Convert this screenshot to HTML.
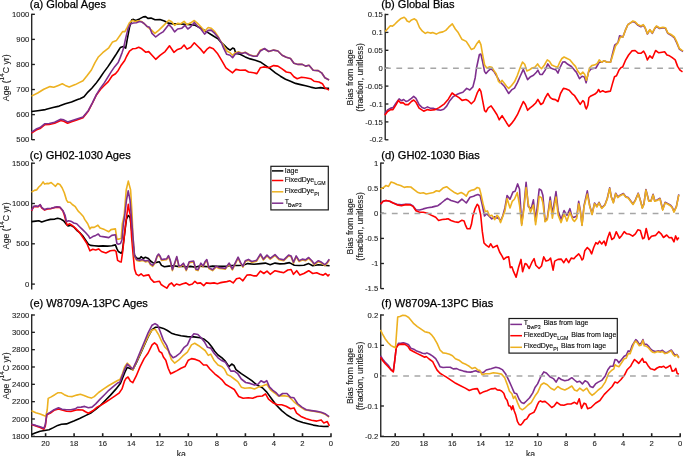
<!DOCTYPE html>
<html><head><meta charset="utf-8"><style>
html,body{margin:0;padding:0;background:#fff;width:685px;height:456px;overflow:hidden;}
svg{display:block;will-change:transform;}
</style></head><body>
<svg width="685" height="456" viewBox="0 0 685 456" font-family='"Liberation Sans", sans-serif'>
<line x1="31.7" y1="13.625" x2="31.7" y2="139.9" stroke="#222222" stroke-width="1.35"/>
<line x1="31.7" y1="14.3" x2="34.9" y2="14.3" stroke="#222222" stroke-width="1.35"/>
<text x="29.2" y="16.9" text-anchor="end" font-size="7.7" fill="#222222" stroke="#222222" stroke-width="0.1">1000</text>
<line x1="31.7" y1="39.379999999999995" x2="34.9" y2="39.379999999999995" stroke="#222222" stroke-width="1.35"/>
<text x="29.2" y="42.0" text-anchor="end" font-size="7.7" fill="#222222" stroke="#222222" stroke-width="0.1">900</text>
<line x1="31.7" y1="64.46" x2="34.9" y2="64.46" stroke="#222222" stroke-width="1.35"/>
<text x="29.2" y="67.1" text-anchor="end" font-size="7.7" fill="#222222" stroke="#222222" stroke-width="0.1">800</text>
<line x1="31.7" y1="89.53999999999999" x2="34.9" y2="89.53999999999999" stroke="#222222" stroke-width="1.35"/>
<text x="29.2" y="92.1" text-anchor="end" font-size="7.7" fill="#222222" stroke="#222222" stroke-width="0.1">700</text>
<line x1="31.7" y1="114.61999999999999" x2="34.9" y2="114.61999999999999" stroke="#222222" stroke-width="1.35"/>
<text x="29.2" y="117.2" text-anchor="end" font-size="7.7" fill="#222222" stroke="#222222" stroke-width="0.1">600</text>
<line x1="31.7" y1="139.7" x2="34.9" y2="139.7" stroke="#222222" stroke-width="1.35"/>
<text x="29.2" y="142.3" text-anchor="end" font-size="7.7" fill="#222222" stroke="#222222" stroke-width="0.1">500</text>
<text transform="translate(8.9,77.8) rotate(-90)" text-anchor="middle" font-size="8.7" fill="#222222" stroke="#222222" stroke-width="0.12">Age (<tspan font-size="6.4" dy="-4.6">14</tspan><tspan dy="4.6">C yr)</tspan></text>
<text x="29.7" y="7.9" font-size="11.08" fill="#000" stroke="#000" stroke-width="0.25">(a) Global Ages</text>
<polyline points="31.5,111.5 37.7,110.7 45.4,109.6 53.0,107.6 59.2,106.1 65.3,103.8 71.5,102.0 77.6,99.5 80.0,98.7 84.0,96.7 87.9,92.1 91.8,88.2 95.8,83.6 99.7,78.3 103.7,72.4 107.6,67.1 111.6,61.2 115.5,55.3 118.8,50.0 120.3,47.6 123.4,46.5 125.7,48.1 127.2,39.6 129.5,27.3 131.8,19.7 133.4,19.4 135.7,20.4 139.5,18.9 143.3,16.9 145.6,16.6 147.9,18.4 151.0,18.1 155.0,19.7 160.0,19.5 164.4,21.0 168.1,23.1 173.2,23.9 179.0,23.9 184.9,24.2 190.7,24.6 195.1,25.3 200.9,28.2 206.8,31.9 212.6,35.5 218.4,39.2 220.5,41.8 224.2,45.1 227.6,48.5 230.1,50.1 232.6,48.1 234.3,48.8 235.9,53.5 240.1,54.3 245.2,56.9 250.2,58.9 255.3,60.2 260.3,61.9 265.3,65.3 270.4,68.9 275.4,72.8 280.4,76.2 285.5,79.2 290.5,81.2 295.5,83.4 300.6,84.6 305.6,85.7 310.6,87.1 315.7,88.3 320.7,87.6 324.9,88.4 329.1,88.4" fill="none" stroke="#000000" stroke-width="1.6" stroke-linejoin="round" stroke-linecap="butt"/>
<polyline points="31.5,133.2 36.1,130.1 40.0,128.6 44.6,124.8 49.2,124.5 54.6,123.2 60.7,120.5 63.8,121.2 67.6,123.2 71.5,121.7 76.1,120.2 83.0,117.7 88.4,110.9 92.5,103.0 96.4,95.0 100.4,89.5 104.3,85.5 108.3,81.6 112.2,75.7 115.5,73.7 118.2,70.4 120.8,65.8 124.7,60.5 126.5,56.5 129.5,51.1 132.6,48.8 135.7,48.5 138.7,47.3 141.8,48.8 145.6,52.2 148.7,51.6 151.8,55.0 155.7,59.3 160.0,55.3 165.1,51.6 169.5,45.8 173.9,52.3 177.6,49.4 181.2,48.2 184.1,45.0 187.0,49.1 190.7,47.2 194.3,42.8 198.0,46.5 200.9,49.4 203.8,53.1 206.8,49.4 209.7,47.2 213.3,48.7 217.7,53.8 220.0,57.7 222.5,61.9 225.9,67.8 229.2,70.3 232.6,72.8 235.9,69.4 240.1,70.3 245.2,70.0 248.5,72.0 253.6,72.8 256.9,73.6 260.3,67.8 263.6,66.9 268.7,67.8 273.7,65.6 277.9,66.1 282.1,68.9 286.3,72.0 290.5,72.8 293.9,76.7 297.2,78.7 301.4,77.3 305.6,77.8 310.6,78.7 314.0,81.2 319.0,82.0 322.4,83.7 324.9,87.9 329.1,90.1" fill="none" stroke="#ff0000" stroke-width="1.6" stroke-linejoin="round" stroke-linecap="butt"/>
<polyline points="31.5,96.1 37.7,93.0 43.8,89.2 50.0,86.6 53.8,87.2 58.4,85.4 62.3,83.8 65.3,85.4 69.2,86.9 71.5,86.1 75.3,84.6 79.2,82.6 83.0,80.8 86.8,76.1 91.4,70.0 95.0,62.6 98.1,57.3 102.7,52.7 108.8,47.8 112.6,41.9 116.5,40.4 120.3,35.0 122.6,31.6 124.9,31.6 127.2,27.3 129.5,22.7 132.6,20.4 134.9,21.5 138.0,20.9 141.8,21.5 144.9,24.3 147.9,27.3 151.0,29.6 154.9,33.4 158.6,30.4 163.0,26.1 168.8,20.2 171.7,21.7 174.6,25.3 177.6,23.4 180.5,23.9 184.1,21.4 187.0,24.6 190.7,22.8 194.3,20.5 197.3,23.1 200.9,26.8 204.6,31.2 208.2,27.5 211.1,28.2 214.8,31.6 218.4,37.0 220.0,40.1 223.4,45.1 226.7,51.0 230.1,52.7 232.6,55.2 235.1,52.7 238.5,51.8 241.8,53.2 245.2,52.2 249.4,54.8 253.6,56.0 256.9,56.0 260.3,50.1 264.5,48.8 268.7,51.5 273.7,50.1 277.9,51.0 282.1,55.2 286.3,57.2 290.5,58.5 293.9,63.2 298.1,64.4 302.3,64.4 305.6,66.1 309.0,65.3 313.2,70.3 318.2,70.6 321.6,72.8 324.9,77.8 329.1,80.0" fill="none" stroke="#edb120" stroke-width="1.6" stroke-linejoin="round" stroke-linecap="butt"/>
<polyline points="31.5,132.2 36.1,129.1 40.0,127.6 44.6,123.8 49.2,123.5 54.6,122.2 60.7,119.2 63.8,119.9 67.6,121.9 71.5,120.7 76.1,119.2 83.0,116.9 88.4,110.4 92.5,102.6 96.4,94.7 100.4,88.2 104.3,82.9 108.3,76.3 111.6,71.1 114.9,66.4 118.2,62.5 120.1,57.9 122.1,52.6 123.4,48.8 125.7,38.1 128.0,28.9 130.3,24.0 133.4,23.0 136.4,22.7 139.5,21.5 141.8,22.0 144.1,23.5 147.2,26.6 149.5,27.3 152.0,33.4 155.7,37.0 159.3,34.1 163.0,31.9 168.8,24.6 171.7,27.5 174.6,31.9 177.6,29.0 181.9,28.2 184.9,25.3 187.8,29.0 190.7,26.8 194.3,22.4 197.3,26.1 200.9,29.0 204.6,34.1 208.2,30.4 211.1,30.1 214.8,33.4 218.4,37.7 221.4,42.8 223.4,47.6 226.7,54.3 230.1,55.2 232.6,57.7 235.1,54.3 238.5,52.5 241.8,53.5 245.2,52.5 249.4,55.0 253.6,56.2 256.9,56.2 260.3,51.0 264.5,48.5 268.7,51.5 273.7,50.1 277.9,51.0 282.1,55.2 286.3,57.2 290.5,58.5 293.9,63.2 298.1,64.4 302.3,64.4 305.6,66.1 309.0,65.3 313.2,70.3 318.2,70.6 321.6,72.8 324.9,77.8 329.1,80.0" fill="none" stroke="#7e2f8e" stroke-width="1.6" stroke-linejoin="round" stroke-linecap="butt"/>
<line x1="385.2" y1="13.825" x2="385.2" y2="140.0" stroke="#222222" stroke-width="1.35"/>
<line x1="385.2" y1="14.5" x2="388.4" y2="14.5" stroke="#222222" stroke-width="1.35"/>
<text x="382.7" y="17.1" text-anchor="end" font-size="7.7" fill="#222222" stroke="#222222" stroke-width="0.1">0.15</text>
<line x1="385.2" y1="32.4" x2="388.4" y2="32.4" stroke="#222222" stroke-width="1.35"/>
<text x="382.7" y="35.0" text-anchor="end" font-size="7.7" fill="#222222" stroke="#222222" stroke-width="0.1">0.1</text>
<line x1="385.2" y1="50.3" x2="388.4" y2="50.3" stroke="#222222" stroke-width="1.35"/>
<text x="382.7" y="52.9" text-anchor="end" font-size="7.7" fill="#222222" stroke="#222222" stroke-width="0.1">0.05</text>
<line x1="385.2" y1="68.19999999999999" x2="388.4" y2="68.19999999999999" stroke="#222222" stroke-width="1.35"/>
<text x="382.7" y="70.8" text-anchor="end" font-size="7.7" fill="#222222" stroke="#222222" stroke-width="0.1">0</text>
<line x1="385.2" y1="86.1" x2="388.4" y2="86.1" stroke="#222222" stroke-width="1.35"/>
<text x="382.7" y="88.7" text-anchor="end" font-size="7.7" fill="#222222" stroke="#222222" stroke-width="0.1">-0.05</text>
<line x1="385.2" y1="104.0" x2="388.4" y2="104.0" stroke="#222222" stroke-width="1.35"/>
<text x="382.7" y="106.6" text-anchor="end" font-size="7.7" fill="#222222" stroke="#222222" stroke-width="0.1">-0.1</text>
<line x1="385.2" y1="121.89999999999999" x2="388.4" y2="121.89999999999999" stroke="#222222" stroke-width="1.35"/>
<text x="382.7" y="124.5" text-anchor="end" font-size="7.7" fill="#222222" stroke="#222222" stroke-width="0.1">-0.15</text>
<line x1="385.2" y1="139.79999999999998" x2="388.4" y2="139.79999999999998" stroke="#222222" stroke-width="1.35"/>
<text x="382.7" y="142.4" text-anchor="end" font-size="7.7" fill="#222222" stroke="#222222" stroke-width="0.1">-0.2</text>
<text transform="translate(352.5,77.4) rotate(-90)" text-anchor="middle" font-size="8.7" fill="#222222" stroke="#222222" stroke-width="0.12">Bias from Iage</text>
<text transform="translate(362.8,77.4) rotate(-90)" text-anchor="middle" font-size="8.7" fill="#222222" stroke="#222222" stroke-width="0.12">(fraction, unitless)</text>
<text x="381.2" y="7.9" font-size="11.08" fill="#000" stroke="#000" stroke-width="0.25">(b) Global Bias</text>
<polyline points="384.8,113.8 387.6,109.9 390.7,108.1 393.0,107.6 396.1,103.0 399.1,98.9 401.4,100.7 403.7,99.5 406.0,101.5 408.3,100.7 411.4,98.4 413.7,96.4 416.0,98.4 419.1,104.6 422.2,107.6 424.5,108.4 427.5,106.9 430.6,108.4 433.7,108.4 436.8,109.6 440.6,110.2 443.7,109.2 446.7,106.1 449.8,100.7 452.9,96.9 456.7,94.6 459.8,93.3 462.9,92.3 466.7,88.4 469.8,90.0 472.9,86.9 475.2,77.7 476.5,68.0 478.0,61.0 479.4,54.5 480.9,54.1 482.4,60.7 484.6,71.6 486.0,73.5 488.2,70.9 491.1,68.7 494.1,71.6 497.0,76.7 499.9,81.8 502.1,84.0 504.3,86.2 506.5,89.9 508.7,93.5 511.6,89.9 514.5,88.1 517.4,82.6 520.3,76.0 523.3,69.4 525.4,74.5 527.6,79.6 530.6,76.7 533.5,75.3 536.4,72.3 537.9,70.1 540.0,74.5 542.2,74.5 545.2,70.1 547.8,63.9 550.3,67.7 553.2,69.1 556.1,70.1 558.0,73.1 559.8,68.0 562.7,62.1 564.9,61.8 567.8,64.3 571.4,66.5 574.4,70.1 576.3,72.1 579.5,78.7 582.0,76.2 584.4,77.0 586.1,82.8 588.5,72.1 591.0,68.9 595.9,68.0 599.2,62.3 601.6,62.3 604.1,60.7 607.3,62.3 610.6,62.0 612.0,56.0 614.7,45.2 618.0,42.5 619.6,35.8 622.9,37.0 625.3,30.4 627.8,24.7 630.2,23.1 632.7,21.6 635.1,22.5 637.6,25.0 640.9,26.8 643.3,25.2 645.0,27.7 647.4,34.0 649.8,30.0 652.3,33.3 654.8,28.5 656.4,26.5 659.7,28.5 662.9,27.8 665.4,28.2 667.8,33.4 671.1,35.2 674.4,38.0 676.8,43.0 679.3,49.0 681.7,50.6 683.0,51.5" fill="none" stroke="#7e2f8e" stroke-width="1.6" stroke-linejoin="round" stroke-linecap="butt"/>
<polyline points="384.8,115.3 387.6,111.5 390.7,109.6 393.0,109.6 396.1,104.6 398.4,100.4 400.7,103.0 403.0,102.6 405.3,104.6 408.3,104.6 411.4,101.5 413.7,100.0 416.0,102.3 419.1,108.1 423.7,111.2 427.5,109.6 430.6,110.2 435.2,109.6 439.1,107.6 444.4,103.8 448.3,99.2 452.1,93.0 455.2,95.3 459.0,97.6 462.1,100.4 465.9,99.5 468.3,100.7 471.3,103.8 474.4,100.7 477.5,92.3 479.5,88.8 480.9,91.3 482.4,99.4 484.6,110.7 486.0,111.8 488.2,107.8 491.1,105.9 494.1,110.3 497.0,114.7 499.2,119.8 502.1,115.7 504.3,119.1 506.5,122.7 508.9,126.4 511.6,123.4 514.5,119.5 517.4,114.7 520.3,108.1 523.3,101.5 525.4,104.5 527.6,110.3 529.8,108.1 532.7,105.9 535.7,103.0 537.9,99.4 540.8,104.5 543.0,103.0 545.2,97.9 547.8,93.5 550.3,97.6 552.5,99.1 555.4,99.6 558.0,101.5 560.5,93.5 563.4,88.4 565.6,88.8 569.2,90.3 572.0,93.6 574.6,95.7 577.2,99.8 580.2,104.4 582.8,100.6 584.3,102.3 585.3,106.9 586.3,109.0 587.9,104.9 588.9,97.7 590.4,96.2 592.5,95.2 595.0,94.1 597.1,92.1 598.6,89.5 600.1,92.1 602.7,90.8 605.3,92.1 607.8,91.6 610.4,91.1 612.4,83.9 614.5,76.8 616.5,75.8 619.0,70.1 621.1,67.6 622.6,67.1 625.3,60.7 628.6,55.0 631.9,50.9 635.1,50.5 638.4,53.3 640.9,53.3 643.6,51.2 645.3,54.1 647.4,59.9 649.8,55.8 652.3,58.2 655.6,50.5 658.8,52.8 662.1,52.2 664.6,51.7 667.0,55.0 669.5,55.8 671.9,57.4 675.2,59.9 677.6,66.4 680.1,70.2 682.5,71.8" fill="none" stroke="#ff0000" stroke-width="1.6" stroke-linejoin="round" stroke-linecap="butt"/>
<polyline points="385.2,31.6 387.4,29.0 390.3,25.8 392.5,26.1 394.7,24.3 397.6,21.4 400.5,18.8 404.2,17.3 405.6,18.5 407.1,21.0 409.3,22.0 411.5,19.9 414.4,18.8 416.6,20.5 419.5,27.5 422.4,31.2 425.3,33.4 427.5,32.2 430.4,33.1 432.6,32.6 436.3,34.1 439.2,32.6 442.9,31.9 445.8,30.4 448.7,27.2 452.3,23.9 455.3,29.0 458.2,32.6 461.8,39.2 466.2,41.4 469.1,45.8 471.3,49.4 474.2,48.2 476.4,44.3 479.1,40.7 480.9,44.6 482.4,53.4 484.6,65.0 486.8,68.0 489.7,66.8 491.9,67.2 494.1,70.9 496.2,73.8 498.4,81.1 499.9,82.8 502.1,80.4 504.3,83.3 506.5,86.2 508.7,88.4 511.6,85.5 514.5,81.8 517.4,75.3 520.3,67.2 522.5,62.1 524.7,64.3 526.9,70.9 529.1,70.1 532.0,68.0 534.9,67.2 537.6,63.9 539.3,66.5 541.5,68.7 544.4,65.0 547.3,59.9 549.5,61.4 551.7,65.0 554.6,66.2 557.6,67.2 559.8,62.1 561.9,58.5 564.1,57.0 567.1,58.5 570.0,59.9 572.9,63.6 575.5,66.4 577.9,71.3 580.4,74.6 582.8,72.1 584.8,74.6 586.4,80.3 588.0,74.6 589.4,68.0 591.8,65.6 595.1,64.8 597.5,63.1 599.2,59.9 601.6,62.3 604.1,60.7 607.3,62.3 610.6,62.0 613.1,54.1 615.5,46.0 618.0,42.7 620.4,37.0 622.9,37.0 625.3,30.4 627.8,24.7 630.2,23.1 632.7,21.1 635.1,21.8 637.6,24.4 640.9,26.0 643.3,24.7 645.0,27.2 647.4,33.7 649.8,29.6 652.3,32.9 654.8,28.0 656.4,26.0 659.7,28.0 662.9,27.2 665.4,27.7 667.8,32.9 671.1,34.5 674.4,37.0 676.8,41.9 679.3,48.4 681.7,50.1 683.0,50.9" fill="none" stroke="#edb120" stroke-width="1.6" stroke-linejoin="round" stroke-linecap="butt"/>
<line x1="31.7" y1="162.525" x2="31.7" y2="289.6" stroke="#222222" stroke-width="1.35"/>
<line x1="31.7" y1="163.2" x2="34.9" y2="163.2" stroke="#222222" stroke-width="1.35"/>
<text x="29.2" y="165.8" text-anchor="end" font-size="7.7" fill="#222222" stroke="#222222" stroke-width="0.1">1500</text>
<line x1="31.7" y1="203.5" x2="34.9" y2="203.5" stroke="#222222" stroke-width="1.35"/>
<text x="29.2" y="206.1" text-anchor="end" font-size="7.7" fill="#222222" stroke="#222222" stroke-width="0.1">1000</text>
<line x1="31.7" y1="243.79999999999998" x2="34.9" y2="243.79999999999998" stroke="#222222" stroke-width="1.35"/>
<text x="29.2" y="246.4" text-anchor="end" font-size="7.7" fill="#222222" stroke="#222222" stroke-width="0.1">500</text>
<line x1="31.7" y1="284.09999999999997" x2="34.9" y2="284.09999999999997" stroke="#222222" stroke-width="1.35"/>
<text x="29.2" y="286.7" text-anchor="end" font-size="7.7" fill="#222222" stroke="#222222" stroke-width="0.1">0</text>
<text transform="translate(8.9,225.8) rotate(-90)" text-anchor="middle" font-size="8.7" fill="#222222" stroke="#222222" stroke-width="0.12">Age (<tspan font-size="6.4" dy="-4.6">14</tspan><tspan dy="4.6">C yr)</tspan></text>
<text x="29.7" y="158.6" font-size="11.08" fill="#000" stroke="#000" stroke-width="0.25">(c) GH02-1030 Ages</text>
<polyline points="31.5,221.6 35.8,221.1 38.8,220.8 41.7,222.0 46.1,220.5 50.4,219.4 54.8,219.1 57.7,218.2 60.7,219.1 63.6,220.8 66.5,224.5 68.0,226.0 70.9,225.2 73.8,227.0 76.7,230.3 80.4,233.2 83.3,236.6 86.2,241.0 88.4,244.2 90.6,245.4 94.2,245.7 98.6,246.1 103.0,245.9 107.4,246.1 111.8,245.7 115.4,244.9 116.9,248.6 118.3,251.5 121.2,253.2 122.3,251.5 124.2,236.9 126.4,219.4 128.1,215.5 129.0,216.0 130.1,217.9 131.6,229.6 133.0,244.2 134.5,255.1 136.7,258.1 139.6,258.8 141.1,256.6 143.2,258.5 145.4,257.3 148.4,258.5 150.5,261.0 153.5,263.2 156.4,262.4 159.3,261.7 161.5,265.4 164.4,266.8 168.8,266.1 173.2,265.8 177.6,266.4 181.9,266.1 186.3,266.8 190.7,266.4 195.1,267.3 199.5,266.1 203.8,266.4 208.2,266.8 212.6,266.1 217.0,266.4 222.0,266.3 226.8,266.3 231.6,265.5 238.1,265.5 242.9,265.2 247.7,263.6 254.1,264.2 260.5,263.6 265.4,263.1 270.2,264.7 275.0,263.1 279.8,263.9 284.6,263.6 289.4,262.6 294.3,265.2 299.1,265.5 303.9,265.2 308.7,263.6 312.7,265.8 318.4,264.7 323.2,265.2 329.6,265.8" fill="none" stroke="#000000" stroke-width="1.6" stroke-linejoin="round" stroke-linecap="butt"/>
<polyline points="31.5,210.8 33.6,206.8 35.8,206.4 38.0,206.8 40.2,205.0 41.7,207.8 44.6,210.0 47.5,209.0 51.2,208.6 54.1,207.8 57.0,207.2 59.9,207.5 62.8,210.8 64.3,215.0 65.8,220.8 67.2,225.2 69.4,223.8 72.3,225.5 75.3,228.1 78.2,231.1 81.1,234.7 84.0,239.1 86.9,243.5 89.9,250.8 92.8,249.3 95.7,250.0 98.6,248.9 101.5,251.5 105.9,253.0 110.3,250.8 114.7,250.3 116.1,251.5 117.6,260.3 119.8,261.7 121.2,262.0 122.7,251.5 124.2,236.9 125.6,223.8 126.8,215.0 128.3,204.4 129.5,212.0 130.4,215.0 131.6,236.9 133.0,253.2 134.6,269.3 136.2,274.1 138.7,275.7 141.1,273.8 143.5,276.0 145.9,275.4 148.8,274.9 150.7,278.9 153.9,282.1 156.3,281.8 159.5,281.3 161.1,284.5 163.5,286.1 166.8,288.2 169.2,284.5 171.6,282.9 174.0,286.1 176.4,284.0 179.6,285.0 182.8,283.7 186.0,282.9 189.2,285.0 192.4,284.0 194.9,281.3 197.3,283.4 200.5,282.9 203.7,285.7 206.1,282.9 210.1,283.4 214.1,282.9 217.3,283.7 219.7,282.9 222.0,282.4 226.8,281.6 230.0,280.8 233.2,282.9 236.5,278.7 239.7,278.0 242.9,280.8 246.9,275.1 250.1,274.8 254.1,275.9 256.5,275.9 260.5,271.1 263.8,273.5 267.0,271.1 270.2,274.3 275.0,270.7 279.8,271.9 283.8,272.7 287.8,270.0 291.1,269.5 293.5,274.3 296.7,270.7 299.9,275.1 303.9,273.5 308.7,270.7 312.7,273.5 316.7,272.7 320.0,274.3 323.2,275.1 325.6,273.5 328.0,275.9 329.6,274.3" fill="none" stroke="#ff0000" stroke-width="1.6" stroke-linejoin="round" stroke-linecap="butt"/>
<polyline points="31.5,192.1 34.4,190.4 36.6,189.9 38.8,187.0 40.9,185.1 43.1,181.9 44.6,184.1 46.8,183.4 49.0,183.6 51.2,182.6 53.4,184.5 55.5,186.3 57.7,183.6 59.9,184.5 62.1,187.7 64.3,192.8 66.5,200.1 68.0,202.3 70.1,202.3 72.3,204.5 75.3,206.7 78.2,211.1 80.4,213.3 83.3,216.5 84.7,219.4 87.7,223.8 89.9,228.9 91.3,227.4 94.2,227.4 97.9,225.2 100.1,228.1 104.5,229.6 108.8,231.8 111.0,229.6 115.4,228.9 116.9,239.1 119.0,239.1 121.2,238.4 122.3,223.8 124.2,215.0 126.2,190.0 128.3,181.1 130.6,190.0 132.1,215.0 133.0,237.8 134.5,256.8 136.7,260.4 139.6,261.2 142.5,260.4 145.4,261.9 148.4,261.2 150.5,264.8 152.7,266.3 154.9,263.3 157.1,256.8 158.6,255.0 160.0,256.8 161.5,260.4 164.4,260.0 166.6,259.7 168.5,256.5 170.3,261.2 172.4,270.6 174.6,264.1 176.8,257.5 179.0,267.0 181.2,266.3 183.4,264.1 186.3,270.6 189.2,262.6 193.6,261.9 195.8,269.9 198.0,270.6 200.9,264.1 203.1,267.0 205.0,262.6 206.8,260.4 208.9,268.5 212.6,270.6 216.2,267.0 219.2,268.5 222.0,268.8 225.2,269.3 229.2,264.0 232.4,269.9 234.8,264.8 238.1,258.1 240.5,263.2 242.9,267.2 245.3,261.6 248.5,260.3 251.7,262.4 256.5,261.3 260.5,254.9 263.4,260.0 267.0,256.0 270.2,259.2 275.0,255.5 279.0,259.7 283.8,260.8 288.6,256.0 291.1,256.8 293.5,263.2 296.2,256.8 299.1,261.6 302.3,260.0 305.5,260.8 308.7,258.4 311.9,261.6 314.3,264.8 318.4,261.6 321.6,263.2 324.8,265.6 327.2,263.2 329.3,260.0" fill="none" stroke="#edb120" stroke-width="1.6" stroke-linejoin="round" stroke-linecap="butt"/>
<polyline points="31.5,210.4 33.6,206.4 35.8,206.0 38.0,206.4 40.2,204.5 41.7,207.4 44.6,209.6 47.5,208.5 51.2,208.2 54.1,207.4 57.0,206.7 59.9,207.0 62.8,210.4 65.0,215.0 66.5,221.6 68.7,220.8 71.6,221.6 73.8,223.0 76.7,223.8 79.6,226.7 82.6,229.6 85.5,232.5 88.4,235.7 89.9,238.4 92.8,236.6 95.7,235.4 98.3,234.0 100.1,236.2 104.5,236.9 108.8,237.6 111.8,235.4 115.4,234.7 116.9,243.5 118.3,244.2 120.5,243.5 122.0,239.8 123.4,223.8 124.8,215.0 126.5,200.0 128.2,190.8 130.0,200.0 131.2,215.0 133.0,236.9 134.5,255.9 136.7,259.5 139.6,260.3 142.5,259.5 145.4,261.0 148.4,260.3 150.5,263.9 152.7,265.4 154.9,262.4 157.1,255.9 158.6,254.1 160.0,255.9 161.5,259.5 164.4,259.1 166.6,258.8 168.5,255.6 170.3,260.3 172.4,269.7 174.6,263.2 176.8,256.6 179.0,266.1 181.2,265.4 183.4,263.2 186.3,269.7 189.2,261.7 193.6,261.0 195.8,269.0 198.0,269.7 200.9,263.2 203.1,266.1 205.0,261.7 206.8,259.5 208.9,267.6 212.6,269.7 216.2,266.1 219.2,267.6 222.0,267.9 225.2,268.4 229.2,263.1 232.4,269.0 234.8,263.9 238.1,257.2 240.5,262.3 242.9,266.3 245.3,260.7 248.5,259.4 251.7,261.5 256.5,260.4 260.5,254.0 263.4,259.1 267.0,255.1 270.2,258.3 275.0,254.6 279.0,258.8 283.8,259.9 288.6,255.1 291.1,255.9 293.5,262.3 296.2,255.9 299.1,260.7 302.3,259.1 305.5,259.9 308.7,257.5 311.9,260.7 314.3,263.9 318.4,260.7 321.6,262.3 324.8,264.7 327.2,262.3 329.3,259.1" fill="none" stroke="#7e2f8e" stroke-width="1.6" stroke-linejoin="round" stroke-linecap="butt"/>
<line x1="380.75" y1="162.425" x2="380.75" y2="288.8" stroke="#222222" stroke-width="1.35"/>
<line x1="380.75" y1="163.1" x2="383.95" y2="163.1" stroke="#222222" stroke-width="1.35"/>
<text x="378.25" y="165.7" text-anchor="end" font-size="7.7" fill="#222222" stroke="#222222" stroke-width="0.1">1</text>
<line x1="380.75" y1="188.2" x2="383.95" y2="188.2" stroke="#222222" stroke-width="1.35"/>
<text x="378.25" y="190.8" text-anchor="end" font-size="7.7" fill="#222222" stroke="#222222" stroke-width="0.1">0.5</text>
<line x1="380.75" y1="213.3" x2="383.95" y2="213.3" stroke="#222222" stroke-width="1.35"/>
<text x="378.25" y="215.9" text-anchor="end" font-size="7.7" fill="#222222" stroke="#222222" stroke-width="0.1">0</text>
<line x1="380.75" y1="238.4" x2="383.95" y2="238.4" stroke="#222222" stroke-width="1.35"/>
<text x="378.25" y="241.0" text-anchor="end" font-size="7.7" fill="#222222" stroke="#222222" stroke-width="0.1">-0.5</text>
<line x1="380.75" y1="263.5" x2="383.95" y2="263.5" stroke="#222222" stroke-width="1.35"/>
<text x="378.25" y="266.1" text-anchor="end" font-size="7.7" fill="#222222" stroke="#222222" stroke-width="0.1">-1</text>
<line x1="380.75" y1="288.6" x2="383.95" y2="288.6" stroke="#222222" stroke-width="1.35"/>
<text x="378.25" y="291.2" text-anchor="end" font-size="7.7" fill="#222222" stroke="#222222" stroke-width="0.1">-1.5</text>
<text transform="translate(352.5,226.4) rotate(-90)" text-anchor="middle" font-size="8.7" fill="#222222" stroke="#222222" stroke-width="0.12">Bias from Iage</text>
<text transform="translate(362.8,226.4) rotate(-90)" text-anchor="middle" font-size="8.7" fill="#222222" stroke="#222222" stroke-width="0.12">(fraction, unitless)</text>
<text x="381.2" y="158.6" font-size="11.08" fill="#000" stroke="#000" stroke-width="0.25">(d) GH02-1030 Bias</text>
<polyline points="380.5,204.2 383.1,201.3 386.0,200.5 389.7,201.3 392.6,202.7 397.0,204.2 401.4,204.9 405.7,204.2 410.1,204.2 413.0,205.9 416.0,209.7 419.6,210.0 423.3,208.9 427.6,207.8 432.0,207.1 434.9,206.4 437.9,205.7 440.8,203.5 444.4,200.5 447.3,198.4 451.0,200.5 454.6,201.6 458.0,202.7 461.9,199.1 464.1,201.0 466.3,203.0 470.0,197.2 473.6,196.2 475.0,195.5 477.9,194.5 480.1,195.5 482.3,205.0 484.5,216.0 486.7,213.8 489.6,216.7 491.8,218.9 494.7,216.7 496.9,218.2 498.4,217.5 500.5,221.0 502.7,216.0 504.9,208.0 507.1,195.5 510.0,199.2 513.0,191.9 515.1,191.2 517.6,183.9 519.5,189.0 521.7,224.0 523.9,206.5 526.1,182.4 528.3,206.5 531.2,208.7 533.4,199.9 535.6,221.1 539.2,189.0 541.4,190.4 542.9,195.5 545.1,221.1 547.3,218.2 550.2,197.0 552.4,213.8 556.0,191.6 558.2,210.9 561.1,219.6 564.1,210.6 567.0,215.3 569.9,208.7 572.0,216.6 573.6,217.4 576.8,216.0 578.7,201.3 580.4,211.0 582.0,225.0 584.0,206.0 587.3,190.9 589.7,205.5 592.1,214.0 594.5,203.1 596.9,206.3 599.0,202.3 601.7,207.9 604.9,204.7 607.3,198.3 609.7,187.9 611.3,196.7 613.4,202.3 615.7,193.2 617.8,197.0 620.2,195.1 623.4,193.5 625.8,196.7 628.2,197.5 630.6,200.7 633.0,203.9 635.4,199.9 638.2,193.2 640.3,199.9 642.3,207.6 643.9,203.9 645.9,189.5 648.8,200.7 651.0,200.7 653.1,194.3 654.7,200.7 657.1,199.9 660.0,198.3 662.7,209.5 665.1,202.3 668.4,203.9 670.8,205.5 672.4,207.6 674.0,211.5 676.4,206.3 678.8,194.3" fill="none" stroke="#7e2f8e" stroke-width="1.6" stroke-linejoin="round" stroke-linecap="butt"/>
<polyline points="380.5,204.2 383.1,201.3 386.0,200.5 389.7,201.3 392.6,202.7 397.0,204.9 401.4,205.7 405.7,204.6 410.1,204.9 413.0,206.4 416.0,210.8 419.6,212.2 423.3,212.2 427.6,213.2 432.0,215.6 435.7,217.3 438.6,220.5 442.2,219.5 445.9,219.1 448.1,218.8 451.0,220.5 454.6,221.7 458.3,222.4 461.9,220.3 464.1,221.0 465.6,225.4 467.1,228.7 470.0,228.7 471.4,224.6 472.9,215.9 475.1,208.6 477.2,204.3 478.6,205.8 480.7,215.0 482.3,231.4 484.0,243.0 486.4,245.4 488.9,247.1 490.6,243.8 493.0,247.6 495.5,246.3 497.1,245.4 499.6,252.0 502.1,256.1 503.7,259.4 506.2,257.4 508.7,256.9 510.3,267.6 511.9,266.8 513.6,271.7 516.1,277.2 518.5,267.6 521.0,259.4 522.6,271.7 525.1,263.5 526.7,264.3 529.2,268.5 531.7,262.7 534.1,258.6 535.8,265.2 539.1,268.5 541.5,266.0 543.7,256.9 546.0,261.1 548.6,260.2 550.6,258.1 553.1,270.1 554.7,261.1 558.0,259.4 561.3,259.1 563.8,262.7 566.2,258.6 568.7,262.7 571.2,258.1 573.9,258.7 576.0,256.3 578.7,253.9 580.4,256.3 582.0,260.0 583.2,258.7 584.8,250.7 587.3,247.5 589.7,249.9 591.6,253.9 593.7,247.5 595.8,242.7 597.7,244.0 599.6,241.1 601.7,244.0 604.1,241.1 605.7,245.6 607.7,237.8 609.7,232.2 611.8,239.5 614.1,237.8 616.2,231.7 619.4,238.2 621.8,235.4 624.2,231.7 626.6,233.8 629.8,234.3 632.7,236.2 635.4,233.8 637.8,229.8 640.3,230.6 642.7,238.7 644.3,237.8 646.2,228.5 648.8,239.5 651.5,236.2 655.5,235.4 658.7,231.7 661.1,233.8 663.5,237.5 666.7,235.0 669.2,237.8 671.6,237.5 674.0,241.9 675.6,235.9 677.2,239.8 678.8,237.5" fill="none" stroke="#ff0000" stroke-width="1.6" stroke-linejoin="round" stroke-linecap="butt"/>
<polyline points="380.5,188.9 383.1,187.8 386.0,185.5 388.5,186.4 391.1,182.0 394.1,183.0 397.0,184.5 400.6,185.5 404.3,187.4 407.2,186.7 410.8,187.0 413.8,189.3 417.4,192.2 420.3,193.2 423.3,192.8 426.2,194.0 429.8,193.2 433.5,192.5 436.4,190.8 439.3,191.4 443.0,188.1 446.6,186.7 450.3,189.6 453.9,192.2 457.6,194.0 461.2,192.5 463.4,193.7 466.3,196.2 468.5,191.8 471.4,190.3 474.4,189.6 477.2,187.5 479.4,188.2 480.8,193.4 483.0,203.6 485.2,211.6 487.4,210.9 489.6,216.0 491.8,215.3 494.7,219.6 496.9,215.3 498.4,216.7 500.5,222.6 502.7,216.7 504.9,210.9 507.1,198.5 510.0,208.0 512.2,201.4 514.4,199.2 517.3,192.6 519.5,205.0 521.7,225.5 523.9,209.4 526.1,187.5 528.3,203.6 530.5,212.3 533.4,205.0 535.6,224.7 537.8,209.4 539.2,196.3 541.4,197.7 542.9,202.8 545.1,221.8 547.3,219.6 550.2,200.7 552.4,218.2 554.6,205.0 556.0,197.0 558.2,215.3 561.1,222.6 564.1,213.8 567.0,221.1 569.9,212.3 572.8,219.6 574.4,221.4 576.8,218.2 578.7,203.7 580.4,211.8 582.0,225.4 584.0,206.9 587.3,194.1 589.7,206.1 592.1,214.6 594.5,203.7 596.9,206.9 599.0,202.9 601.7,208.5 604.9,205.3 607.3,198.9 609.7,188.5 611.3,197.3 613.4,202.9 615.7,193.8 617.8,197.6 620.2,195.7 623.4,194.1 625.8,197.3 628.2,198.1 630.6,201.3 633.0,204.5 635.4,200.5 638.2,193.8 640.3,200.5 642.3,208.2 643.9,204.5 645.9,190.1 648.8,201.3 651.0,201.3 653.1,194.9 654.7,201.3 657.1,200.5 660.0,198.9 662.7,210.1 665.1,202.9 668.4,204.5 670.8,206.1 672.4,208.2 674.0,212.1 676.4,206.9 678.8,194.9" fill="none" stroke="#edb120" stroke-width="1.6" stroke-linejoin="round" stroke-linecap="butt"/>
<line x1="31.7" y1="314.325" x2="31.7" y2="436.6" stroke="#222222" stroke-width="1.35"/>
<line x1="31.7" y1="315.0" x2="34.9" y2="315.0" stroke="#222222" stroke-width="1.35"/>
<text x="29.2" y="317.6" text-anchor="end" font-size="7.7" fill="#222222" stroke="#222222" stroke-width="0.1">3200</text>
<line x1="31.7" y1="332.33" x2="34.9" y2="332.33" stroke="#222222" stroke-width="1.35"/>
<text x="29.2" y="334.9" text-anchor="end" font-size="7.7" fill="#222222" stroke="#222222" stroke-width="0.1">3000</text>
<line x1="31.7" y1="349.65999999999997" x2="34.9" y2="349.65999999999997" stroke="#222222" stroke-width="1.35"/>
<text x="29.2" y="352.3" text-anchor="end" font-size="7.7" fill="#222222" stroke="#222222" stroke-width="0.1">2800</text>
<line x1="31.7" y1="366.99" x2="34.9" y2="366.99" stroke="#222222" stroke-width="1.35"/>
<text x="29.2" y="369.6" text-anchor="end" font-size="7.7" fill="#222222" stroke="#222222" stroke-width="0.1">2600</text>
<line x1="31.7" y1="384.32" x2="34.9" y2="384.32" stroke="#222222" stroke-width="1.35"/>
<text x="29.2" y="386.9" text-anchor="end" font-size="7.7" fill="#222222" stroke="#222222" stroke-width="0.1">2400</text>
<line x1="31.7" y1="401.65" x2="34.9" y2="401.65" stroke="#222222" stroke-width="1.35"/>
<text x="29.2" y="404.2" text-anchor="end" font-size="7.7" fill="#222222" stroke="#222222" stroke-width="0.1">2200</text>
<line x1="31.7" y1="418.98" x2="34.9" y2="418.98" stroke="#222222" stroke-width="1.35"/>
<text x="29.2" y="421.6" text-anchor="end" font-size="7.7" fill="#222222" stroke="#222222" stroke-width="0.1">2000</text>
<line x1="31.7" y1="436.31" x2="34.9" y2="436.31" stroke="#222222" stroke-width="1.35"/>
<text x="29.2" y="438.9" text-anchor="end" font-size="7.7" fill="#222222" stroke="#222222" stroke-width="0.1">1800</text>
<line x1="31.05" y1="436.6" x2="331.6" y2="436.6" stroke="#222222" stroke-width="1.35"/>
<line x1="331.0" y1="436.6" x2="331.0" y2="433.20000000000005" stroke="#222222" stroke-width="1.6"/>
<text x="331.0" y="446.3" text-anchor="middle" font-size="7.7" fill="#222222" stroke="#222222" stroke-width="0.1">0</text>
<line x1="302.5" y1="436.6" x2="302.5" y2="433.20000000000005" stroke="#222222" stroke-width="1.6"/>
<text x="302.5" y="446.3" text-anchor="middle" font-size="7.7" fill="#222222" stroke="#222222" stroke-width="0.1">2</text>
<line x1="273.9" y1="436.6" x2="273.9" y2="433.20000000000005" stroke="#222222" stroke-width="1.6"/>
<text x="273.9" y="446.3" text-anchor="middle" font-size="7.7" fill="#222222" stroke="#222222" stroke-width="0.1">4</text>
<line x1="245.4" y1="436.6" x2="245.4" y2="433.20000000000005" stroke="#222222" stroke-width="1.6"/>
<text x="245.4" y="446.3" text-anchor="middle" font-size="7.7" fill="#222222" stroke="#222222" stroke-width="0.1">6</text>
<line x1="216.8" y1="436.6" x2="216.8" y2="433.20000000000005" stroke="#222222" stroke-width="1.6"/>
<text x="216.8" y="446.3" text-anchor="middle" font-size="7.7" fill="#222222" stroke="#222222" stroke-width="0.1">8</text>
<line x1="188.3" y1="436.6" x2="188.3" y2="433.20000000000005" stroke="#222222" stroke-width="1.6"/>
<text x="188.3" y="446.3" text-anchor="middle" font-size="7.7" fill="#222222" stroke="#222222" stroke-width="0.1">10</text>
<line x1="159.8" y1="436.6" x2="159.8" y2="433.20000000000005" stroke="#222222" stroke-width="1.6"/>
<text x="159.8" y="446.3" text-anchor="middle" font-size="7.7" fill="#222222" stroke="#222222" stroke-width="0.1">12</text>
<line x1="131.2" y1="436.6" x2="131.2" y2="433.20000000000005" stroke="#222222" stroke-width="1.6"/>
<text x="131.2" y="446.3" text-anchor="middle" font-size="7.7" fill="#222222" stroke="#222222" stroke-width="0.1">14</text>
<line x1="102.7" y1="436.6" x2="102.7" y2="433.20000000000005" stroke="#222222" stroke-width="1.6"/>
<text x="102.7" y="446.3" text-anchor="middle" font-size="7.7" fill="#222222" stroke="#222222" stroke-width="0.1">16</text>
<line x1="74.1" y1="436.6" x2="74.1" y2="433.20000000000005" stroke="#222222" stroke-width="1.6"/>
<text x="74.1" y="446.3" text-anchor="middle" font-size="7.7" fill="#222222" stroke="#222222" stroke-width="0.1">18</text>
<line x1="45.6" y1="436.6" x2="45.6" y2="433.20000000000005" stroke="#222222" stroke-width="1.6"/>
<text x="45.6" y="446.3" text-anchor="middle" font-size="7.7" fill="#222222" stroke="#222222" stroke-width="0.1">20</text>
<text x="181.3" y="457.0" text-anchor="middle" font-size="8.7" fill="#222222" stroke="#222222" stroke-width="0.12">ka</text>
<text transform="translate(8.9,375.8) rotate(-90)" text-anchor="middle" font-size="8.7" fill="#222222" stroke="#222222" stroke-width="0.12">Age (<tspan font-size="6.4" dy="-4.6">14</tspan><tspan dy="4.6">C yr)</tspan></text>
<text x="29.7" y="307" font-size="11.08" fill="#000" stroke="#000" stroke-width="0.25">(e) W8709A-13PC Ages</text>
<polyline points="31.5,434.6 35.8,432.7 40.2,431.2 44.6,430.5 49.0,429.7 53.4,427.6 57.7,425.4 61.4,424.3 66.5,423.9 70.1,422.4 73.8,421.0 79.6,418.5 85.5,415.6 91.3,412.7 95.7,409.3 100.1,405.7 104.5,401.3 110.3,395.4 116.1,388.9 120.5,383.2 122.4,378.5 124.8,372.5 127.2,367.4 129.6,368.2 132.8,369.8 136.1,363.4 140.1,354.6 144.1,345.7 148.1,336.9 152.1,329.7 155.3,327.3 159.3,327.3 163.4,328.4 167.4,330.5 171.4,333.2 175.4,334.5 181.0,335.8 187.4,336.6 193.9,336.9 200.3,337.7 204.3,339.3 208.3,342.5 211.5,346.5 214.7,351.3 218.0,355.0 222.0,357.9 225.5,361.4 229.0,366.7 231.7,364.0 233.9,365.4 236.0,369.7 241.3,373.7 246.6,377.2 251.8,380.7 257.1,385.1 262.4,387.7 266.8,392.1 271.2,398.3 276.4,405.3 281.7,410.6 287.0,415.0 292.2,418.1 297.5,420.8 302.8,422.5 308.0,423.7 313.3,425.1 318.6,426.0 323.8,426.5 328.7,426.4" fill="none" stroke="#000000" stroke-width="1.6" stroke-linejoin="round" stroke-linecap="butt"/>
<polyline points="31.5,424.6 35.8,426.1 40.2,427.6 43.9,429.3 45.3,426.1 46.8,414.7 50.4,413.0 54.1,410.3 58.5,408.9 62.1,410.0 66.5,411.2 70.9,411.5 75.3,410.3 78.2,409.7 82.6,410.0 85.5,411.8 88.4,413.2 92.8,410.8 97.2,407.1 101.5,404.9 105.9,402.0 110.3,399.1 114.7,396.2 119.0,393.2 122.0,388.9 124.6,380.8 126.0,378.4 128.0,377.0 130.4,381.1 132.8,382.7 136.1,376.2 140.1,366.6 144.1,358.6 148.1,353.0 152.1,344.9 154.5,342.8 156.9,344.9 159.3,351.3 161.8,353.0 163.4,357.0 165.8,360.2 168.2,368.2 170.6,373.8 173.8,372.2 177.0,370.6 181.0,368.2 185.0,366.6 188.3,360.2 191.5,358.6 195.5,359.4 199.5,361.0 203.5,365.0 206.7,365.0 209.9,369.0 214.7,373.8 218.8,377.0 222.0,379.8 225.5,384.2 229.9,386.9 234.3,389.5 238.7,396.5 243.1,398.3 248.3,397.8 252.7,398.3 257.1,396.5 262.4,396.0 265.5,393.9 268.5,399.2 272.9,402.7 277.3,404.8 281.7,404.8 286.1,406.2 290.5,408.8 294.0,407.9 296.6,413.2 301.0,416.4 306.3,418.8 311.5,420.2 316.8,421.1 321.2,419.9 323.8,422.9 327.3,421.6 329.4,425.8" fill="none" stroke="#ff0000" stroke-width="1.6" stroke-linejoin="round" stroke-linecap="butt"/>
<polyline points="31.5,410.8 35.8,412.7 40.2,414.1 43.9,415.6 45.8,416.2 47.2,410.0 48.2,398.4 51.2,396.9 54.8,394.7 57.7,392.8 61.4,392.8 64.3,394.7 68.0,396.2 72.3,396.6 76.7,395.1 80.4,394.3 84.0,395.4 88.4,397.2 91.3,398.1 94.2,396.6 98.6,392.5 103.0,389.3 108.8,385.5 113.2,383.0 117.6,380.5 120.0,379.4 122.4,373.8 124.8,366.6 127.2,363.1 129.6,365.3 132.8,370.1 136.1,362.6 140.1,353.8 144.1,344.9 148.1,336.1 152.1,330.0 155.3,329.3 158.5,334.5 161.8,341.7 165.0,347.3 168.2,350.5 171.4,359.4 174.6,363.1 178.6,360.2 182.6,356.2 187.4,352.1 191.5,344.9 194.7,343.3 198.7,345.7 201.9,348.1 205.1,350.5 208.3,355.4 210.7,354.1 213.9,360.2 218.0,365.0 222.0,366.7 224.6,369.3 227.3,374.6 230.8,376.3 234.3,379.0 237.8,381.6 241.3,387.2 244.8,388.3 250.1,387.7 254.5,389.0 258.9,386.9 262.4,386.0 266.8,384.2 270.3,389.5 274.7,393.0 278.2,396.0 283.4,395.6 288.7,396.5 294.0,401.8 299.2,406.2 304.5,409.7 309.8,410.6 315.0,411.4 321.2,412.8 325.6,414.6 329.1,417.2" fill="none" stroke="#edb120" stroke-width="1.6" stroke-linejoin="round" stroke-linecap="butt"/>
<polyline points="31.5,424.3 35.8,425.4 40.2,426.8 43.9,428.3 45.3,424.6 46.8,414.4 50.4,412.2 54.1,409.7 58.5,407.8 62.1,409.3 66.5,409.7 70.9,409.7 75.3,408.9 77.4,407.4 81.1,407.1 84.7,406.4 88.4,407.8 92.0,407.1 95.7,403.9 100.1,399.1 104.5,394.7 108.8,390.3 113.2,386.7 117.6,383.0 120.0,381.9 122.4,375.4 124.8,369.0 127.2,364.2 129.6,366.3 132.8,369.0 136.1,361.8 140.1,352.1 144.1,342.5 148.1,332.9 152.1,325.2 155.0,323.6 157.7,325.2 160.1,331.3 163.4,340.1 166.6,345.4 169.8,353.8 173.0,357.8 176.2,356.2 180.2,353.0 184.2,347.3 187.4,344.9 190.7,337.7 193.9,333.7 197.9,334.5 201.1,337.7 204.3,341.7 207.5,347.3 210.7,348.1 213.9,353.0 218.0,357.8 221.2,360.2 225.5,362.3 228.1,366.7 230.8,371.1 234.3,371.1 237.8,373.7 241.3,379.0 245.7,382.5 250.1,383.4 254.5,385.1 258.0,384.2 261.0,380.7 264.1,382.5 266.8,380.7 269.4,386.9 272.9,390.4 276.4,393.0 279.1,396.0 282.6,393.5 287.0,393.5 290.5,397.4 294.0,397.8 297.5,403.5 301.9,407.1 306.3,409.7 311.5,410.6 316.8,411.4 321.2,412.3 325.6,414.1 329.1,416.7" fill="none" stroke="#7e2f8e" stroke-width="1.6" stroke-linejoin="round" stroke-linecap="butt"/>
<line x1="380.75" y1="314.325" x2="380.75" y2="436.6" stroke="#222222" stroke-width="1.35"/>
<line x1="380.75" y1="315.0" x2="383.95" y2="315.0" stroke="#222222" stroke-width="1.35"/>
<text x="378.25" y="317.6" text-anchor="end" font-size="7.7" fill="#222222" stroke="#222222" stroke-width="0.1">0.2</text>
<line x1="380.75" y1="345.33" x2="383.95" y2="345.33" stroke="#222222" stroke-width="1.35"/>
<text x="378.25" y="347.9" text-anchor="end" font-size="7.7" fill="#222222" stroke="#222222" stroke-width="0.1">0.1</text>
<line x1="380.75" y1="375.65999999999997" x2="383.95" y2="375.65999999999997" stroke="#222222" stroke-width="1.35"/>
<text x="378.25" y="378.3" text-anchor="end" font-size="7.7" fill="#222222" stroke="#222222" stroke-width="0.1">0</text>
<line x1="380.75" y1="405.99" x2="383.95" y2="405.99" stroke="#222222" stroke-width="1.35"/>
<text x="378.25" y="408.6" text-anchor="end" font-size="7.7" fill="#222222" stroke="#222222" stroke-width="0.1">-0.1</text>
<line x1="380.75" y1="436.32" x2="383.95" y2="436.32" stroke="#222222" stroke-width="1.35"/>
<text x="378.25" y="438.9" text-anchor="end" font-size="7.7" fill="#222222" stroke="#222222" stroke-width="0.1">-0.2</text>
<line x1="380.1" y1="436.6" x2="680.8" y2="436.6" stroke="#222222" stroke-width="1.35"/>
<line x1="680.2" y1="436.6" x2="680.2" y2="433.20000000000005" stroke="#222222" stroke-width="1.6"/>
<text x="680.2" y="446.3" text-anchor="middle" font-size="7.7" fill="#222222" stroke="#222222" stroke-width="0.1">0</text>
<line x1="651.7" y1="436.6" x2="651.7" y2="433.20000000000005" stroke="#222222" stroke-width="1.6"/>
<text x="651.7" y="446.3" text-anchor="middle" font-size="7.7" fill="#222222" stroke="#222222" stroke-width="0.1">2</text>
<line x1="623.2" y1="436.6" x2="623.2" y2="433.20000000000005" stroke="#222222" stroke-width="1.6"/>
<text x="623.2" y="446.3" text-anchor="middle" font-size="7.7" fill="#222222" stroke="#222222" stroke-width="0.1">4</text>
<line x1="594.7" y1="436.6" x2="594.7" y2="433.20000000000005" stroke="#222222" stroke-width="1.6"/>
<text x="594.7" y="446.3" text-anchor="middle" font-size="7.7" fill="#222222" stroke="#222222" stroke-width="0.1">6</text>
<line x1="566.2" y1="436.6" x2="566.2" y2="433.20000000000005" stroke="#222222" stroke-width="1.6"/>
<text x="566.2" y="446.3" text-anchor="middle" font-size="7.7" fill="#222222" stroke="#222222" stroke-width="0.1">8</text>
<line x1="537.7" y1="436.6" x2="537.7" y2="433.20000000000005" stroke="#222222" stroke-width="1.6"/>
<text x="537.7" y="446.3" text-anchor="middle" font-size="7.7" fill="#222222" stroke="#222222" stroke-width="0.1">10</text>
<line x1="509.2" y1="436.6" x2="509.2" y2="433.20000000000005" stroke="#222222" stroke-width="1.6"/>
<text x="509.2" y="446.3" text-anchor="middle" font-size="7.7" fill="#222222" stroke="#222222" stroke-width="0.1">12</text>
<line x1="480.7" y1="436.6" x2="480.7" y2="433.20000000000005" stroke="#222222" stroke-width="1.6"/>
<text x="480.7" y="446.3" text-anchor="middle" font-size="7.7" fill="#222222" stroke="#222222" stroke-width="0.1">14</text>
<line x1="452.2" y1="436.6" x2="452.2" y2="433.20000000000005" stroke="#222222" stroke-width="1.6"/>
<text x="452.2" y="446.3" text-anchor="middle" font-size="7.7" fill="#222222" stroke="#222222" stroke-width="0.1">16</text>
<line x1="423.7" y1="436.6" x2="423.7" y2="433.20000000000005" stroke="#222222" stroke-width="1.6"/>
<text x="423.7" y="446.3" text-anchor="middle" font-size="7.7" fill="#222222" stroke="#222222" stroke-width="0.1">18</text>
<line x1="395.2" y1="436.6" x2="395.2" y2="433.20000000000005" stroke="#222222" stroke-width="1.6"/>
<text x="395.2" y="446.3" text-anchor="middle" font-size="7.7" fill="#222222" stroke="#222222" stroke-width="0.1">20</text>
<text x="530.5" y="457.0" text-anchor="middle" font-size="8.7" fill="#222222" stroke="#222222" stroke-width="0.12">ka</text>
<text transform="translate(352.5,376.0) rotate(-90)" text-anchor="middle" font-size="8.7" fill="#222222" stroke="#222222" stroke-width="0.12">Bias from Iage</text>
<text transform="translate(362.8,376.0) rotate(-90)" text-anchor="middle" font-size="8.7" fill="#222222" stroke="#222222" stroke-width="0.12">(fraction, unitless)</text>
<text x="381.2" y="307" font-size="11.08" fill="#000" stroke="#000" stroke-width="0.25">(f) W8709A-13PC Bias</text>
<polyline points="380.5,355.8 382.4,358.7 385.3,362.4 388.2,365.3 391.1,369.7 393.3,371.1 394.8,360.2 396.2,347.8 398.4,343.4 401.4,343.1 403.5,342.7 406.5,343.8 408.7,344.8 410.8,348.2 413.8,349.2 416.7,351.1 419.6,352.1 422.5,353.2 425.4,353.6 426.9,352.9 429.8,354.3 432.7,356.1 435.7,358.7 437.9,362.4 440.0,366.7 443.0,367.5 446.6,367.2 450.3,367.2 453.2,368.9 456.8,368.6 459.8,370.1 463.4,371.1 467.1,371.9 470.7,372.1 472.9,371.6 475.8,370.7 478.0,371.9 479.8,372.0 483.0,372.8 486.2,370.0 491.0,368.8 495.8,367.2 499.1,368.0 502.3,369.6 505.5,373.7 508.7,380.1 511.9,387.3 514.3,392.9 516.7,393.7 519.1,399.3 521.5,402.6 523.9,403.4 526.4,401.0 529.6,397.7 532.8,392.9 535.0,387.5 537.6,383.9 540.3,377.7 543.8,371.9 546.4,373.0 549.9,376.8 553.4,378.6 556.1,382.1 558.7,377.7 561.3,379.5 564.8,380.7 568.3,380.0 571.8,377.7 574.5,380.0 577.1,382.1 579.7,381.2 582.4,383.9 585.0,380.7 587.6,382.1 590.3,386.5 592.9,387.4 595.5,383.9 598.2,382.1 601.7,380.4 605.2,376.0 607.8,369.8 610.4,366.3 613.1,366.3 615.0,359.5 617.0,360.1 618.9,362.8 621.6,359.5 624.2,356.2 626.2,355.3 628.2,350.9 630.1,351.6 632.1,345.7 634.1,342.4 635.8,339.7 637.4,341.1 639.3,344.3 641.3,343.0 642.9,339.5 644.2,344.3 646.6,344.3 648.6,346.3 650.5,348.9 652.5,350.5 655.1,351.6 657.8,350.9 660.4,351.3 662.4,350.3 665.0,352.6 667.6,352.2 669.6,350.9 671.3,350.0 672.9,352.2 674.9,355.3 676.8,354.5 678.8,357.5" fill="none" stroke="#7e2f8e" stroke-width="1.6" stroke-linejoin="round" stroke-linecap="butt"/>
<polyline points="380.5,357.3 382.4,360.2 385.3,363.8 388.2,366.7 391.1,370.1 393.3,371.9 394.8,360.2 396.2,347.8 398.4,344.8 402.1,344.1 405.0,344.4 407.9,346.3 410.1,349.7 413.8,351.7 417.4,353.6 421.8,355.8 424.7,357.3 426.2,356.5 429.1,359.0 432.7,361.6 434.9,366.0 437.1,370.1 440.0,373.3 443.0,375.1 446.1,376.9 450.9,380.1 455.7,383.3 460.5,385.7 465.3,388.1 469.3,390.5 472.6,389.2 475.0,388.9 477.4,388.6 479.8,393.7 483.0,392.1 487.0,390.8 491.0,388.9 494.2,388.6 495.0,388.2 497.2,389.9 499.4,390.1 501.6,391.0 503.8,393.2 505.4,398.1 507.1,400.3 508.7,405.8 510.4,406.3 511.7,409.6 512.8,405.8 514.2,410.7 515.8,415.1 517.5,421.7 519.1,424.4 520.8,425.0 522.4,423.3 524.6,420.0 526.8,418.9 529.5,414.5 531.7,413.4 533.9,412.3 535.6,409.1 537.2,405.2 538.9,401.9 540.5,400.8 542.1,401.9 545.0,401.4 548.2,404.0 551.7,407.5 554.3,405.8 556.9,402.3 560.4,404.9 563.9,405.3 567.5,404.0 571.0,404.0 574.5,402.3 577.1,404.0 579.2,398.8 581.5,408.4 584.1,403.2 585.9,404.0 587.6,408.8 591.1,407.5 595.5,403.2 599.9,400.5 604.3,394.4 608.7,390.0 612.2,386.5 614.8,382.1 617.5,383.0 621.0,379.5 624.5,375.1 627.1,369.8 630.6,366.3 632.1,363.4 634.5,359.5 636.7,361.4 638.7,363.4 640.7,360.8 642.4,358.4 643.9,362.1 645.9,362.1 647.9,365.4 650.5,368.7 652.5,369.3 654.5,370.0 657.1,368.0 659.7,366.7 661.7,367.1 663.7,366.3 665.7,368.0 668.3,366.7 670.3,365.4 672.2,371.3 674.2,370.7 675.8,368.4 677.1,373.3 678.8,374.2" fill="none" stroke="#ff0000" stroke-width="1.6" stroke-linejoin="round" stroke-linecap="butt"/>
<polyline points="380.5,329.8 382.4,333.9 385.3,339.0 388.2,342.7 391.1,345.6 393.3,346.7 395.5,347.8 397.7,317.1 399.9,316.4 402.8,315.2 405.7,315.6 408.7,317.5 410.8,320.0 413.8,323.7 417.4,326.6 421.1,329.2 424.7,331.7 427.6,332.4 429.1,332.7 431.3,334.6 434.2,338.3 437.1,343.4 440.0,350.0 443.0,352.9 445.9,353.2 449.5,354.3 452.5,355.8 455.4,358.7 459.0,360.2 462.7,363.1 466.3,364.6 469.2,366.3 472.2,368.6 475.1,367.5 478.0,370.1 479.8,370.4 482.2,374.8 485.4,373.7 489.4,373.7 493.4,372.8 497.4,373.2 501.5,374.1 504.7,377.7 507.1,384.1 509.5,391.3 511.9,393.7 513.5,398.5 515.1,396.1 517.5,402.6 519.9,408.2 522.3,409.8 524.7,408.2 528.0,405.0 531.2,402.6 535.0,396.1 537.6,392.6 541.1,384.7 543.8,383.0 547.3,384.7 550.8,388.2 554.3,390.0 557.8,386.5 561.3,388.8 564.8,390.0 568.3,388.2 571.8,386.0 574.5,390.0 577.1,390.9 579.7,388.2 583.2,390.9 586.8,388.2 589.4,392.6 592.0,395.3 594.6,393.5 598.2,390.0 601.7,387.4 605.2,382.1 608.7,373.3 611.3,370.7 613.9,368.9 615.0,364.7 617.0,366.1 618.9,366.7 621.6,362.8 624.2,358.8 626.2,358.2 628.2,353.6 630.1,353.6 632.1,348.3 634.1,343.0 635.8,341.1 637.4,343.0 639.3,345.7 641.3,345.0 642.9,340.4 644.2,345.7 646.6,346.3 648.6,347.9 650.5,350.3 652.5,352.2 655.1,352.6 657.8,351.6 660.4,352.2 662.4,351.6 665.0,353.6 667.6,352.9 669.6,351.6 671.3,350.9 672.9,354.2 674.9,356.2 676.8,354.9 678.8,358.2" fill="none" stroke="#edb120" stroke-width="1.6" stroke-linejoin="round" stroke-linecap="butt"/>
<line x1="385" y1="68.2" x2="683" y2="68.2" stroke="#a6a6a6" stroke-width="1.5" stroke-dasharray="5.8 5.54"/>
<line x1="380.5" y1="213.5" x2="679" y2="213.5" stroke="#a6a6a6" stroke-width="1.5" stroke-dasharray="5.8 5.54"/>
<line x1="380.5" y1="375.9" x2="679" y2="375.9" stroke="#a6a6a6" stroke-width="1.5" stroke-dasharray="5.8 5.54"/>
<rect x="270.9" y="166.3" width="57.4" height="43.6" fill="#fff" stroke="#1a1a1a" stroke-width="1.2"/>
<line x1="272" y1="170.9" x2="283.3" y2="170.9" stroke="#000000" stroke-width="1.5"/>
<text x="284.7" y="173.4" font-size="7" fill="#000" stroke="#000" stroke-width="0.1">Iage</text>
<line x1="272" y1="180.5" x2="283.3" y2="180.5" stroke="#ff0000" stroke-width="1.5"/>
<text x="284.7" y="181.8" font-size="7" fill="#000" stroke="#000" stroke-width="0.1">FixedDye<tspan font-size="5.2" dy="3.2">LGM</tspan></text>
<line x1="272" y1="191.8" x2="283.3" y2="191.8" stroke="#edb120" stroke-width="1.5"/>
<text x="284.7" y="192.8" font-size="7" fill="#000" stroke="#000" stroke-width="0.1">FixedDye<tspan font-size="5.2" dy="3.2">PI</tspan></text>
<line x1="272" y1="203.2" x2="283.3" y2="203.2" stroke="#7e2f8e" stroke-width="1.5"/>
<text x="284.7" y="204.2" font-size="7" fill="#000" stroke="#000" stroke-width="0.1">T<tspan font-size="5.2" dy="3.2" dx="-1.0">BwP3</tspan></text>
<rect x="509.0" y="318.5" width="108.3" height="34.6" fill="#fff" stroke="#1a1a1a" stroke-width="1.2"/>
<line x1="510.3" y1="324.4" x2="522" y2="324.4" stroke="#7e2f8e" stroke-width="1.5"/>
<text x="523.7" y="325.3" font-size="7" fill="#000" stroke="#000" stroke-width="0.1">T<tspan font-size="5.2" dy="3.3" dx="-1.0">BwP3</tspan><tspan dy="-3.3" dx="0.9"> Bias from Iage</tspan></text>
<line x1="510.3" y1="335.7" x2="522" y2="335.7" stroke="#ff0000" stroke-width="1.5"/>
<text x="523.7" y="336.9" font-size="7" fill="#000" stroke="#000" stroke-width="0.1">FlexedDye<tspan font-size="5.2" dy="3.3">LGM</tspan><tspan dy="-3.3" dx="0.9"> Bias from Iage</tspan></text>
<line x1="510.3" y1="347.3" x2="522" y2="347.3" stroke="#edb120" stroke-width="1.5"/>
<text x="523.7" y="348.1" font-size="7" fill="#000" stroke="#000" stroke-width="0.1">FixedDye<tspan font-size="5.2" dy="3.3">PI</tspan><tspan dy="-3.3" dx="0.9"> Bias from Iage</tspan></text>
</svg>
</body></html>
